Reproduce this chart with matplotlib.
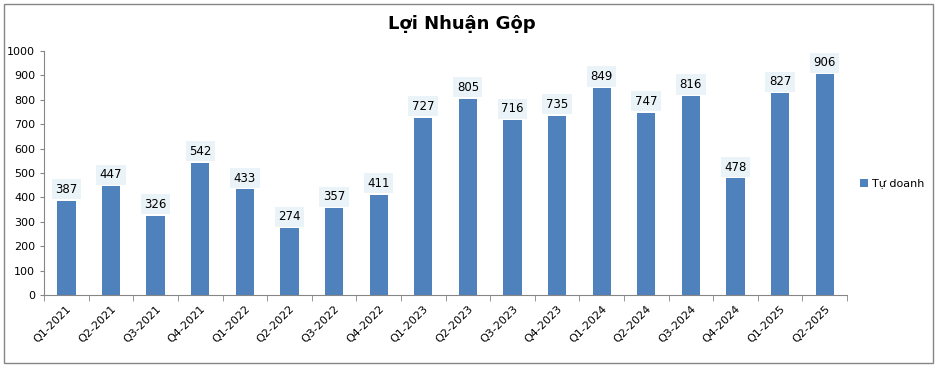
import matplotlib
matplotlib.use('Agg')
import matplotlib.pyplot as plt
from matplotlib.patches import Rectangle

quarters = ['Q1-2021', 'Q2-2021', 'Q3-2021', 'Q4-2021', 'Q1-2022', 'Q2-2022',
            'Q3-2022', 'Q4-2022', 'Q1-2023', 'Q2-2023', 'Q3-2023', 'Q4-2023',
            'Q1-2024', 'Q2-2024', 'Q3-2024', 'Q4-2024', 'Q1-2025', 'Q2-2025']
tu_doanh = [387, 447, 326, 542, 433, 274, 357, 411, 727, 805, 716, 735,
            849, 747, 816, 478, 827, 906]
yticks = list(range(0, 1001, 100))

fig = plt.figure(figsize=(9.39, 3.67), dpi=100)
ax = fig.add_axes([0.047, 0.196, 0.855, 0.665])

x = range(len(quarters))
ax.bar(x, tu_doanh, width=0.41, color='#4F81BD', label='Tự doanh', zorder=2)

for i, v in enumerate(tu_doanh):
    ax.text(i, v + 20, str(v), ha='center', va='bottom', fontsize=8.5,
            bbox=dict(boxstyle='square,pad=0.3', fc='#EAF3F8', ec='none'))

ax.set_xlim(-0.5, len(quarters) - 0.5)
ax.set_ylim(0, 1000)
ax.set_yticks(yticks)
ax.tick_params(axis='y', labelsize=8, length=3, color='#868686')
ax.set_xticks(x)
ax.set_xticklabels(quarters, rotation=45, ha='right', rotation_mode='anchor', fontsize=8)
ax.tick_params(axis='x', length=0, pad=6)
ax.set_xticks([i - 0.5 for i in range(len(quarters) + 1)], minor=True)
ax.tick_params(axis='x', which='minor', length=4, color='#868686')

for s in ['top', 'right']:
    ax.spines[s].set_visible(False)
for s in ['left', 'bottom']:
    ax.spines[s].set_color('#868686')

fig.text(0.492, 0.935, 'Lợi Nhuận Gộp', ha='center', va='center', fontsize=13, fontweight='bold')

leg = fig.legend(loc='center left', bbox_to_anchor=(0.905, 0.50), frameon=False,
                 fontsize=8, handlelength=0.7, handleheight=0.7, handletextpad=0.4)

fig.patches.append(Rectangle((0.004, 0.012), 0.99, 0.978, transform=fig.transFigure,
                             fill=False, ec='#868686', lw=1))

fig.savefig('out.png', dpi=100)
